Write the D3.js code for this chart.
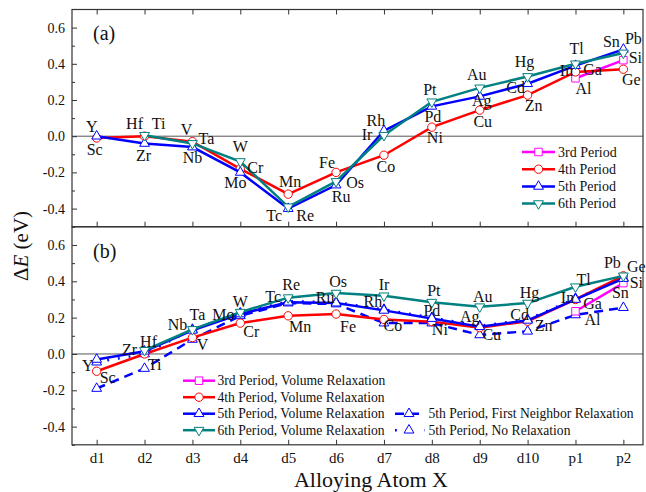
<!DOCTYPE html>
<html>
<head>
<meta charset="utf-8">
<script src="https://cdn.jsdelivr.net/npm/d3@7"></script>
<style>
  body { margin: 0; background: #fff; }
  svg text { font-family: "Liberation Serif", "Times New Roman", serif; fill: #111; }
</style>
</head>
<body>
<svg id="chart" width="646" height="492"></svg>
<script>
// categories on the x axis
const categories = ["d1", "d2", "d3", "d4", "d5", "d6", "d7", "d8", "d9", "d10", "p1", "p2"];

// element names per period (null = no element in that column)
const atoms3 = [null, null, null, null, null, null, null, null, null, null, "Al", "Si"];
const atoms4 = ["Sc", "Ti", "V", "Cr", "Mn", "Fe", "Co", "Ni", "Cu", "Zn", "Ga", "Ge"];
const atoms5 = ["Y", "Zr", "Nb", "Mo", "Tc", "Ru", "Rh", "Pd", "Ag", "Cd", "In", "Sn"];
const atoms6 = [null, "Hf", "Ta", "W", "Re", "Os", "Ir", "Pt", "Au", "Hg", "Tl", "Pb"];

// panel (a) values, eV
const a3 = [null, null, null, null, null, null, null, null, null, null, 0.32, 0.42];
const a4 = [-0.01, 0.0, -0.03, -0.18, -0.32, -0.20, -0.105, 0.05, 0.144, 0.227, 0.355, 0.37];
const a5 = [0.0, -0.04, -0.06, -0.20, -0.40, -0.27, 0.03, 0.165, 0.22, 0.29, 0.39, 0.48];
const a6 = [null, 0.005, -0.04, -0.14, -0.39, -0.25, 0.005, 0.19, 0.267, 0.33, 0.40, 0.46];

// panel (b) values, eV
const b3 = [null, null, null, null, null, null, null, null, null, null, 0.235, 0.39];
const b4 = [-0.095, 0.0, 0.09, 0.17, 0.21, 0.22, 0.19, 0.178, 0.145, 0.18, 0.30, 0.43];
const b5 = [-0.03, 0.015, 0.13, 0.22, 0.285, 0.28, 0.24, 0.195, 0.15, 0.185, 0.30, 0.415];
const b6 = [null, 0.02, 0.135, 0.23, 0.31, 0.335, 0.32, 0.285, 0.26, 0.28, 0.37, 0.43];
const b5First = [-0.19, -0.08, 0.08, 0.21, 0.28, 0.275, 0.17, 0.17, 0.105, 0.125, 0.215, 0.255];
const b5None = [-0.045, 0.0, 0.135, 0.225, 0.29, 0.285, 0.245, 0.2, 0.155, 0.19, 0.305, 0.42];

const yTicks = [-0.4, -0.2, 0.0, 0.2, 0.4, 0.6];
const yMinor = [-0.5, -0.3, -0.1, 0.1, 0.3, 0.5];

const legendA = ["3rd Period", "4th Period", "5th Period", "6th Period"];
const legendB = ["3rd Period, Volume Relaxation", "4th Period, Volume Relaxation",
  "5th Period, Volume Relaxation", "6th Period, Volume Relaxation"];
const legendB2 = ["5th Period, First Neighbor Relaxation", "5th Period, No Relaxation"];

// label placement around the points (pixels)
const offA = {
  Y: [-5, -4], Sc: [-2, 17], Hf: [-10, -6], Ti: [14, -7], Zr: [-1, 17.5], V: [-6, -7], Ta: [14, 1],
  Nb: [0, 15.5], W: [0, -10], Cr: [15, 4.5], Mo: [-5, 16], Mn: [2, -7], Tc: [-14, 12.6], Re: [17, 14.4],
  Fe: [-9, -4.5], Os: [19, 7], Ru: [5, 17], Rh: [-8, -4.6], Ir: [-17, 5], Co: [2, 16.7], Pt: [-2, -6.6],
  Pd: [1, 15.6], Ni: [3, 16.3], Au: [-3, -7.7], Ag: [2, 9.5], Cu: [3, 16.7], Hg: [-3, -9.6], Cd: [-12, 9.2],
  Zn: [6, 15.8], Tl: [1, -10.3], In: [-9, 10.6], Ga: [17, 3.3], Al: [8, 16], Sn: [-12, -2.4], Pb: [10, -8.7],
  Si: [12, 3.3], Ge: [8, 16]
};
const offB = {
  Y: [-9, 12], Sc: [11, 12], Zr: [-15, 4], Hf: [4, -3], Ti: [10, 16], Nb: [-15, 0], Ta: [5, -9.5], V: [10, 12],
  Mo: [-17, 6], W: [0, -5], Cr: [11, 13.6], Tc: [-15, 0], Re: [3, -8], Mn: [12, 16], Os: [2, -6.5], Ru: [-11, 0],
  Fe: [12, 17.6], Ir: [0, -6], Rh: [-11, -3], Co: [9, 12], Pt: [2, -6], Pd: [0, -3], Ni: [8, 13], Au: [3, -5],
  Ag: [-10, -5], Cu: [12, 12], Hg: [2, -5], Cd: [-8, 0], Zn: [16, 10], Tl: [8, -2], In: [-8, 4], Ga: [17, 10],
  Al: [17, 13.5], Pb: [-11, -8], Ge: [13, -4], Si: [13, 5], Sn: [-3, 19.6]
};

const colors = { p3: "#ff00ff", p4: "#ff0000", p5: "#0000ff", p6: "#008080" };

const svg = d3.select("#chart");
const left = 72, right = 643;
const x = d3.scaleLinear().domain([0.485, 12.41]).range([left, right]);
const yA = d3.scaleLinear().domain([-0.5, 0.7]).range([226.7, 9.5]);
const yB = d3.scaleLinear().domain([-0.5, 0.7]).range([444.8, 226.8]);

const symbolPath = {
  square: d3.symbol(d3.symbolSquare, 56)(),
  circle: d3.symbol(d3.symbolCircle, 55)(),
  up: d3.symbol(d3.symbolTriangle, 42)(),
  down: d3.symbol(d3.symbolTriangle, 42)()
};

function marker(g, type, cx, cy, color) {
  g.append("path")
    .attr("d", symbolPath[type])
    .attr("transform", `translate(${cx},${cy})` + (type === "down" ? " rotate(180)" : ""))
    .attr("fill", "#fff")
    .attr("stroke", color)
    .attr("stroke-width", 1);
}

function series(g, y, values, color, type, dash) {
  const pts = values.map((v, i) => ({ i: i + 1, v })).filter(d => d.v != null);
  const line = d3.line().x(d => x(d.i)).y(d => y(d.v));
  g.append("path")
    .attr("d", line(pts))
    .attr("fill", "none")
    .attr("stroke", color)
    .attr("stroke-width", 2.5)
    .attr("stroke-dasharray", dash || null);
  pts.forEach(d => marker(g, type, x(d.i), y(d.v), color));
}

function frame(y) {
  const g = svg.append("g");
  // zero line
  g.append("line").attr("class", "zero").attr("x1", left).attr("x2", right)
    .attr("y1", y(0)).attr("y2", y(0));
  // y axis, inward ticks
  const ya = g.append("g").attr("transform", `translate(${left},0)`)
    .call(d3.axisLeft(y).tickValues(yTicks).tickSize(-5).tickPadding(7).tickFormat(d => d.toFixed(1)));
  ya.select(".domain").remove();
  ya.selectAll("text").attr("font-size", 14).attr("fill", "#111");
  const ym = g.append("g").attr("transform", `translate(${left},0)`)
    .call(d3.axisLeft(y).tickValues(yMinor).tickSize(-3).tickFormat(""));
  ym.select(".domain").remove();
  g.selectAll("line").attr("stroke", "#333");
  g.select(".zero").attr("stroke", "#555").attr("stroke-width", 1);
  return g;
}

function panelBox(top, bottom) {
  svg.append("rect").attr("x", left).attr("y", top)
    .attr("width", right - left).attr("height", bottom - top)
    .attr("fill", "none").attr("stroke", "#333").attr("stroke-width", 1.2);
}

function labels(g, y, offsets, list) {
  list.forEach(([names, vals]) => {
    names.forEach((n, i) => {
      if (!n || vals[i] == null) return;
      const o = offsets[n];
      g.append("text")
        .attr("x", x(i + 1) + o[0])
        .attr("y", y(vals[i]) + o[1])
        .attr("text-anchor", "middle")
        .attr("font-size", 16)
        .text(n);
    });
  });
}

// ---------- panel (a)
frame(yA);
const topAxis = svg.append("g").attr("transform", `translate(0,${yA.range()[1]})`)
  .call(d3.axisTop(x).tickValues(d3.range(1, 13)).tickSize(-5).tickFormat(""));
topAxis.select(".domain").remove();
const midAxis = svg.append("g").attr("transform", `translate(0,${yA.range()[0]})`)
  .call(d3.axisBottom(x).tickValues(d3.range(1, 13)).tickSize(-5).tickFormat(""));
midAxis.select(".domain").remove();

const gA = svg.append("g");
series(gA, yA, a3, colors.p3, "square");
series(gA, yA, a4, colors.p4, "circle");
series(gA, yA, a5, colors.p5, "up");
series(gA, yA, a6, colors.p6, "down");
labels(gA, yA, offA, [[atoms3, a3], [atoms4, a4], [atoms5, a5], [atoms6, a6]]);

svg.append("text").attr("x", 93).attr("y", 40).attr("font-size", 20).text("(a)");

// legend (a)
const legA = svg.append("g");
const legTypes = [["square", colors.p3], ["circle", colors.p4], ["up", colors.p5], ["down", colors.p6]];
legendA.forEach((t, i) => {
  const cy = 152 + i * 17.2;
  legA.append("line").attr("x1", 522).attr("x2", 555).attr("y1", cy).attr("y2", cy)
    .attr("stroke", legTypes[i][1]).attr("stroke-width", 2.5);
  marker(legA, legTypes[i][0], 538.5, cy, legTypes[i][1]);
  legA.append("text").attr("x", 558).attr("y", cy + 4.8).attr("font-size", 14).text(t);
});

// ---------- panel (b)
frame(yB);
const botAxis = svg.append("g").attr("transform", `translate(0,${yB.range()[0]})`)
  .call(d3.axisBottom(x).tickValues(d3.range(1, 13)).tickSize(-5).tickPadding(8)
    .tickFormat(d => categories[d - 1]));
botAxis.select(".domain").remove();
botAxis.selectAll("text").attr("font-size", 15).attr("fill", "#111");
svg.selectAll(".tick line").attr("stroke", "#333");

const gB = svg.append("g");
series(gB, yB, b5None, colors.p5, "up", "1.8,9");
series(gB, yB, b5First, colors.p5, "up", "9,6");
series(gB, yB, b3, colors.p3, "square");
series(gB, yB, b4, colors.p4, "circle");
series(gB, yB, b5, colors.p5, "up");
series(gB, yB, b6, colors.p6, "down");
labels(gB, yB, offB, [[atoms3, b3], [atoms4, b4], [atoms5, b5], [atoms6, b6]]);

svg.append("text").attr("x", 93).attr("y", 258).attr("font-size", 20).text("(b)");

// legend (b)
const legB = svg.append("g");
legendB.forEach((t, i) => {
  const cy = 380.7 + i * 16.5;
  legB.append("line").attr("x1", 183).attr("x2", 215).attr("y1", cy).attr("y2", cy)
    .attr("stroke", legTypes[i][1]).attr("stroke-width", 2.5);
  marker(legB, legTypes[i][0], 199, cy, legTypes[i][1]);
  legB.append("text").attr("x", 217.5).attr("y", cy + 4.5).attr("font-size", 13.6).text(t);
});
const legB2Dash = ["9,6", "1.8,13"];
legendB2.forEach((t, i) => {
  const cy = 380.7 + (i + 2) * 16.5;
  legB.append("line").attr("x1", 395).attr("x2", 425).attr("y1", cy).attr("y2", cy)
    .attr("stroke", colors.p5).attr("stroke-width", 2.5).attr("stroke-dasharray", legB2Dash[i]);
  marker(legB, "up", 409, cy, colors.p5);
  legB.append("text").attr("x", 428.5).attr("y", cy + 4.5).attr("font-size", 13.6).text(t);
});

panelBox(yA.range()[1], yA.range()[0]);
panelBox(yB.range()[1], yB.range()[0]);

// axis titles
svg.append("text").attr("x", 371).attr("y", 487)
  .attr("text-anchor", "middle").attr("font-size", 22).text("Alloying Atom X");
const yt = svg.append("text")
  .attr("transform", "translate(28,246) rotate(-90)")
  .attr("text-anchor", "middle").attr("font-size", 21);
yt.append("tspan").text("\u0394");
yt.append("tspan").attr("font-style", "italic").text("E");
yt.append("tspan").text(" (eV)");
</script>
</body>
</html>
